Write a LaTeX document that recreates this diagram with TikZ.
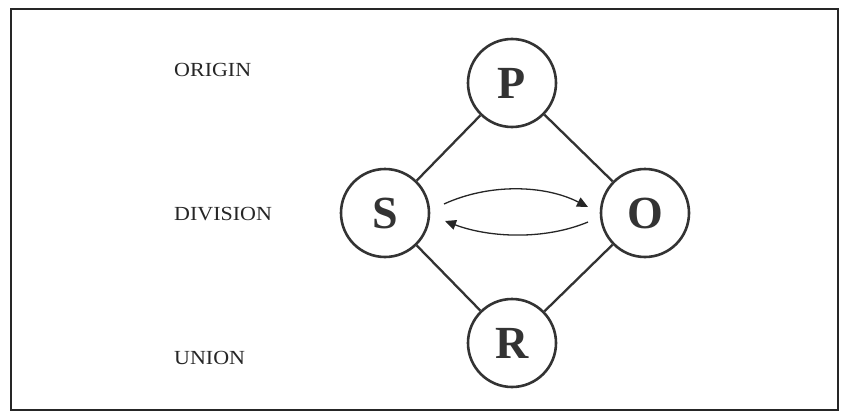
\documentclass[tikz,border=0pt]{standalone}
\usepackage{fontspec}
\setmainfont{Liberation Serif}
\usetikzlibrary{arrows.meta}
\begin{document}
\begin{tikzpicture}[x=1pt,y=-1pt,
  stage/.style={circle,draw=black!80,line width=2.6pt,minimum size=88pt,inner sep=0pt,
    font=\fontsize{46}{50}\selectfont\bfseries,text=black!80},
  label/.style={anchor=west,inner sep=0pt,font=\fontsize{20}{24}\selectfont,text=black!85},
  link/.style={draw=black!80,line width=2.3pt},
  flow/.style={draw=black!85,line width=1.3pt,-{Triangle[length=11pt,width=10pt]}}]
\useasboundingbox (0,0) rectangle (842,412);
\draw[line width=1.3pt,black!85] (11,9) rectangle (838,410);
\node[stage] (P) at (512,83) {P};
\node[stage] (S) at (385,213) {S};
\node[stage] (O) at (645,213) {O};
\node[stage] (R) at (512,343) {R};
\draw[link] (S) -- (P);
\draw[link] (P) -- (O);
\draw[link] (O) -- (R);
\draw[link] (R) -- (S);
\coordinate (s1) at (444,204);
\coordinate (o1) at (588,207);
\coordinate (o2) at (588,222);
\coordinate (s2) at (445,221);
\draw[flow] (s1) .. controls (490,183) and (545,185) .. (o1);
\draw[flow] (o2) .. controls (545,240) and (490,238) .. (s2);
\node[label] (origin) at (174,70) {\scalebox{1.1}[1]{ORIGIN}};
\node[label] (division) at (174,214) {\scalebox{1.1}[1]{DIVISION}};
\node[label] (union) at (174,358) {\scalebox{1.1}[1]{UNION}};
\end{tikzpicture}
\end{document}
